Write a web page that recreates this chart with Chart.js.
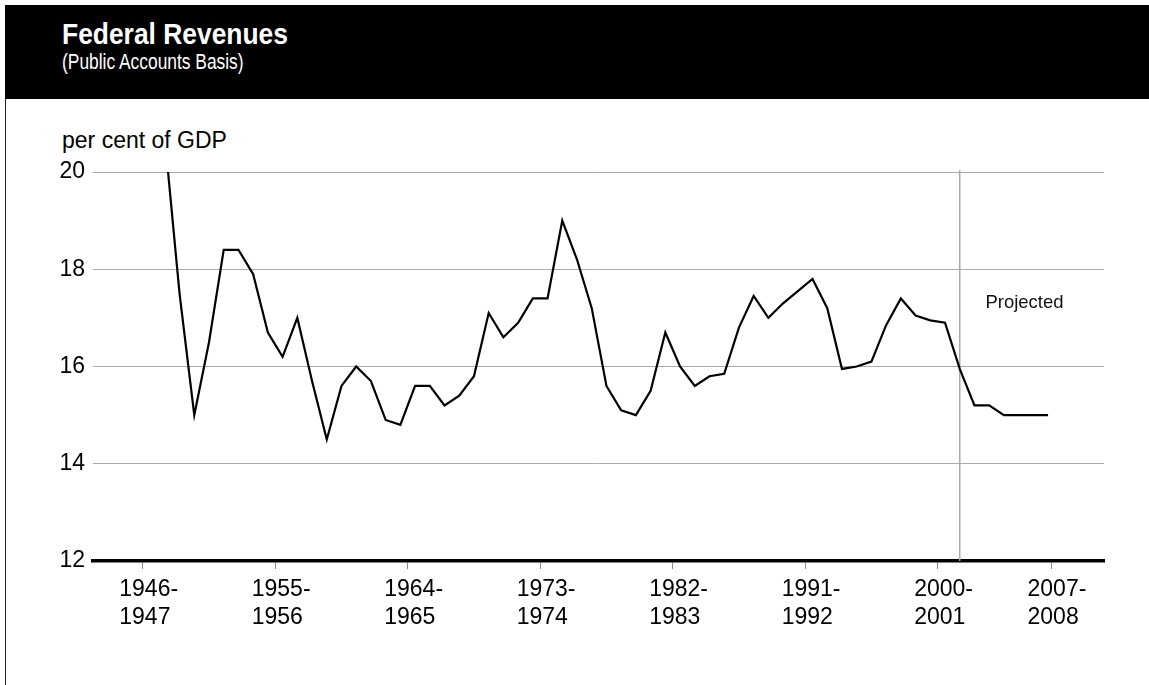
<!DOCTYPE html>
<html>
<head>
<meta charset="utf-8">
<title>Federal Revenues</title>
<script src="https://cdn.jsdelivr.net/npm/chart.js@4.4.1/dist/chart.umd.min.js"></script>
<style>
  html, body { margin: 0; padding: 0; background: #fff; }
  body { width: 1149px; height: 685px; position: relative; overflow: hidden;
         font-family: "Liberation Sans", Arial, Helvetica, sans-serif; }
  #frame { position: absolute; left: 5px; top: 5px; right: 0; bottom: 0; border-left: 1px solid #222; }
  #header { position: absolute; left: 5px; top: 5px; width: 1144px; height: 94px; background: #000; }
  #title { position: absolute; left: 62px; top: 18.5px; color: #fff; font-weight: bold;
           font-size: 30px; line-height: 30px; white-space: nowrap;
           transform: scaleX(0.88); transform-origin: left top; }
  #subtitle { position: absolute; left: 62px; top: 51.4px; color: #fff;
              font-size: 22px; line-height: 22px; white-space: nowrap;
              transform: scaleX(0.79); transform-origin: left top; }
  #unit { position: absolute; left: 62px; top: 129px; color: #000;
          font-size: 23px; line-height: 23px; white-space: nowrap; }
  #chart { position: absolute; left: 0; top: 0; }
</style>
</head>
<body>
<div id="frame"></div>
<div id="header"></div>
<div id="title">Federal Revenues</div>
<div id="subtitle">(Public Accounts Basis)</div>
<div id="unit">per cent of GDP</div>
<canvas id="chart" width="1149" height="685"></canvas>
<script>
        // fiscal years 1946-1947 .. 2007-2008, keyed by starting year
        const fiscalStart = Array.from({ length: 62 }, (_, i) => 1946 + i);

        // federal revenues, per cent of GDP (1946-47 lies above the chart's range)
        const revenueShare = [
            null, 20.7, 17.5, 15.0, 16.5, 18.4, 18.4, 17.9, 16.7, 16.2,
            17.0, 15.7, 14.5, 15.6, 16.0, 15.7, 14.9, 14.8, 15.6, 15.6,
            15.2, 15.4, 15.8, 17.1, 16.6, 16.9, 17.4, 17.4, 19.0, 18.2,
            17.2, 15.6, 15.1, 15.0, 15.5, 16.7, 16.0, 15.6, 15.8, 15.85,
            16.8, 17.45, 17.0, 17.3, 17.55, 17.8, 17.2, 15.95, 16.0, 16.1,
            16.85, 17.4, 17.05, 16.95, 16.9, 15.95, 15.2, 15.2, 15.0, 15.0,
            15.0, 15.0
        ];

        // first projected year (2001-2002) gets the vertical marker
        const projectionStart = 2001;

        const xTickValues = [1946, 1955, 1964, 1973, 1982, 1991, 2000, 2007.7];
        const xTickLabels = [
            ["1946-", "1947"], ["1955-", "1956"], ["1964-", "1965"], ["1973-", "1974"],
            ["1982-", "1983"], ["1991-", "1992"], ["2000-", "2001"], ["2007-", "2008"]
        ];
        const yTicks = [12, 14, 16, 18, 20];

        const projectedNote = { text: "Projected", x: 2005.9, y: 17.3 };

        const FONT = '"Liberation Sans", Arial, Helvetica, sans-serif';
        Chart.defaults.font.family = FONT;
        Chart.defaults.color = "#000";

        const projectedLabel = {
            id: "projectedLabel",
            afterDatasetsDraw(chart) {
                const { ctx, scales: { x, y } } = chart;
                ctx.save();
                ctx.font = "18.5px " + FONT;
                ctx.fillStyle = "#111";
                ctx.textAlign = "center";
                ctx.textBaseline = "middle";
                ctx.fillText(projectedNote.text, x.getPixelForValue(projectedNote.x), y.getPixelForValue(projectedNote.y));
                ctx.restore();
            }
        };

        new Chart(document.getElementById("chart"), {
            type: "line",
            data: {
                datasets: [
                    {
                        label: "Federal revenues",
                        data: revenueShare.map((v, i) => ({ x: fiscalStart[i] + 0.5, y: v })),
                        borderColor: "#000",
                        borderWidth: 2.2,
                        pointRadius: 0,
                        tension: 0,
                        order: 1
                    },
                    {
                        label: "Projection start",
                        data: [
                            { x: projectionStart + 0.5, y: yTicks[0] },
                            { x: projectionStart + 0.5, y: yTicks[yTicks.length - 1] + 0.04 }
                        ],
                        borderColor: "#a9a9a9",
                        borderWidth: 1.5,
                        pointRadius: 0,
                        clip: 4,
                        order: 2
                    }
                ]
            },
            options: {
                responsive: false,
                animation: false,
                devicePixelRatio: 1,
                layout: { padding: { left: 0, top: 172, right: 45, bottom: 0 } },
                plugins: {
                    legend: { display: false },
                    tooltip: { enabled: false }
                },
                scales: {
                    x: {
                        type: "linear",
                        min: 1942.62,
                        max: 2011.3,
                        afterBuildTicks: axis => {
                            axis.ticks = xTickValues.map(v => ({ value: v }));
                        },
                        afterFit: axis => { axis.height = 124; },
                        border: { display: true, color: "#000", width: 3.5 },
                        grid: {
                            drawOnChartArea: false,
                            drawTicks: true,
                            tickLength: 8,
                            color: "#8a8a8a",
                            lineWidth: 1
                        },
                        ticks: {
                            autoSkip: false,
                            maxRotation: 0,
                            align: "start",
                            labelOffset: -23.5,
                            padding: 6,
                            font: { size: 23, lineHeight: 1.24 },
                            color: "#000",
                            callback: (value, index) => xTickLabels[index]
                        }
                    },
                    y: {
                        min: yTicks[0],
                        max: yTicks[yTicks.length - 1],
                        afterBuildTicks: axis => {
                            axis.ticks = yTicks.map(v => ({ value: v }));
                        },
                        afterFit: axis => { axis.width = 93; },
                        border: { display: false },
                        grid: {
                            drawTicks: false,
                            color: c => (c.tick && c.tick.value === yTicks[0]) ? "rgba(0,0,0,0)" : "#ababab",
                            lineWidth: 1
                        },
                        ticks: {
                            padding: 8,
                            font: { size: 23 },
                            color: "#000"
                        }
                    }
                }
            },
            plugins: [projectedLabel]
        });
</script>
</body>
</html>
